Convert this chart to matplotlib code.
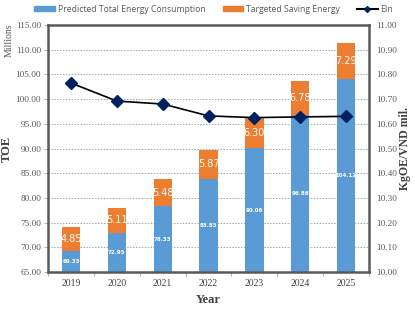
import numpy as np
import matplotlib
matplotlib.use('Agg')
import matplotlib.pyplot as plt
from matplotlib.lines import Line2D
from matplotlib.patches import Patch

years = ['2019', '2020', '2021', '2022', '2023', '2024', '2025']
consumption = [69.33, 72.95, 78.33, 83.83, 90.06, 96.86, 104.12]
saving = [4.85, 5.11, 5.48, 5.87, 6.30, 6.78, 7.29]
ein = [10.765, 10.692, 10.680, 10.632, 10.625, 10.628, 10.630]

blue = '#5B9BD5'
orange = '#ED7D31'
serif = 'Liberation Serif'

fig = plt.figure(figsize=(4.15, 3.12), dpi=100)
ax = fig.add_axes([0.116, 0.128, 0.773, 0.792])
x = np.arange(len(years))
w = 0.4

ax.bar(x, consumption, w, color=blue, zorder=2)
ax.bar(x, saving, w, bottom=consumption, color=orange, zorder=2)

ymin, ymax = 65, 115
ax.set_ylim(ymin, ymax)
ax.set_xlim(-0.5, len(years) - 0.5)
ax.set_yticks(np.arange(65, 116, 5))
ax.set_yticklabels([f'{v:.2f}' for v in np.arange(65, 116, 5)],
                   fontfamily=serif, fontsize=6.7, color='#595959')
ax.set_xticks(x)
ax.set_xticklabels(years, fontfamily=serif, fontsize=7, color='#404040')
ax.set_xticks(np.arange(-0.5, len(years), 1), minor=True)
ax.yaxis.grid(True, linestyle=(0, (1.5, 1.5)), color='#A6A6A6', linewidth=0.7, zorder=0)
ax.tick_params(axis='y', length=3, width=0.6, color='#A6A6A6', pad=2)
ax.tick_params(axis='x', which='major', length=0, pad=5)
ax.tick_params(axis='x', which='minor', length=3, width=0.6, color='#A6A6A6')

for s in ax.spines.values():
    s.set_color('#595959')
    s.set_linewidth(1.8)

for i in range(len(years)):
    c = consumption[i]
    ax.text(x[i], (ymin + c) / 2, f'{c:.2f}', ha='center', va='center',
            fontsize=4, color='white', fontweight='bold', zorder=5)
    ax.text(x[i], c + saving[i] / 2, f'{saving[i]:.2f}', ha='center', va='center',
            fontsize=7, color='white', zorder=5)

ax2 = ax.twinx()
ax2.plot(x, ein, color='black', linewidth=1.2, marker='D', markersize=6,
         markerfacecolor='#002060', markeredgecolor='#002060', zorder=6)
ax2.set_ylim(10.0, 11.0)
ax2.set_yticks(np.arange(10.0, 11.01, 0.1))
ax2.set_yticklabels([f'{v:.2f}' for v in np.arange(10.0, 11.01, 0.1)],
                    fontfamily=serif, fontsize=6.7, color='#595959')
ax2.tick_params(axis='y', length=0, pad=5)
for s in ax2.spines.values():
    s.set_visible(False)

ax.set_xlabel('Year', fontfamily=serif, fontsize=9, fontweight='bold', color='#404040', labelpad=4)
ax.set_ylabel('TOE', fontfamily=serif, fontsize=9, fontweight='bold', color='#404040')
ax.yaxis.set_label_coords(-0.11, 0.5)
ax2.set_ylabel('KgOE/VND mil.', fontfamily=serif, fontsize=8.5, fontweight='bold', color='#404040')
ax2.yaxis.set_label_coords(1.095, 0.5)
fig.text(0.022, 0.87, 'Millions', rotation=90, fontfamily=serif, fontsize=7,
         color='#595959', ha='center', va='center')

handles = [Patch(color=blue), Patch(color=orange),
           Line2D([0], [0], color='black', marker='D', markersize=3,
                  markerfacecolor='#002060', markeredgecolor='#002060')]
labels = ['Predicted Total Energy Consumption', 'Targeted Saving Energy', 'EIn']
fig.legend(handles, labels, loc='upper center', bbox_to_anchor=(0.515, 1.01), ncol=3,
           frameon=False, handlelength=2.4, handleheight=0.6,
           columnspacing=2.0, handletextpad=0.3, labelcolor='#595959',
           prop={'family': 'Open Sans', 'size': 6.2})

fig.savefig('out.png', dpi=100)
